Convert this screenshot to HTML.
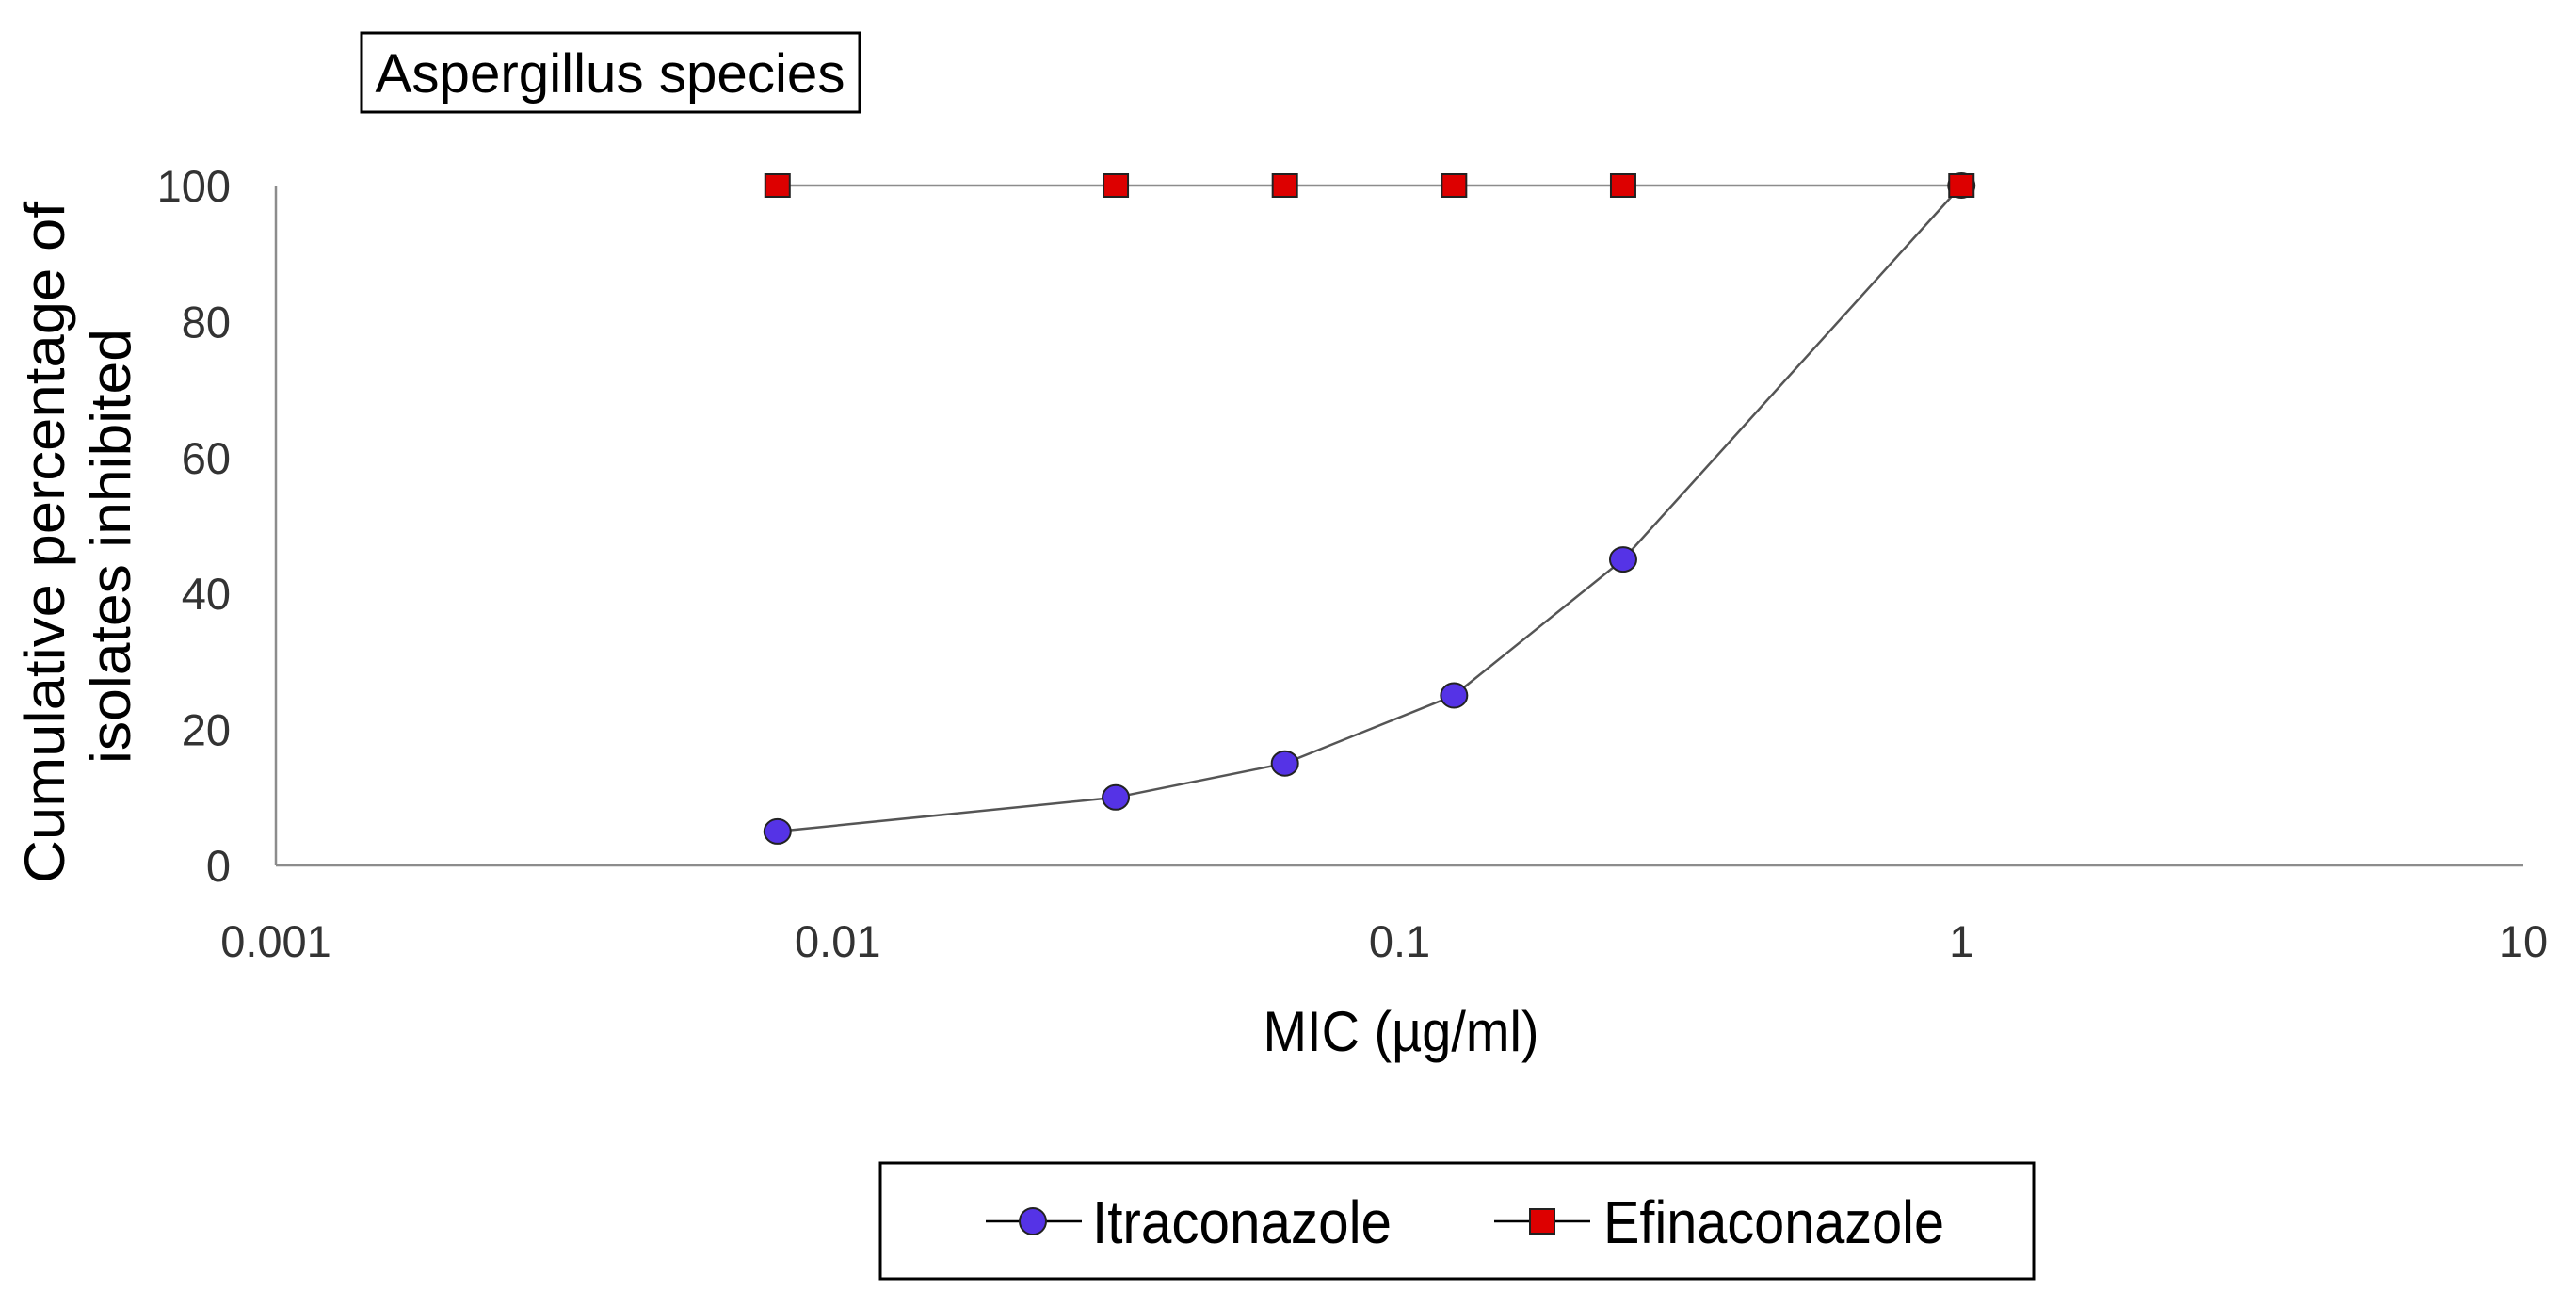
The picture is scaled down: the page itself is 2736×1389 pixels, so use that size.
<!DOCTYPE html>
<html><head><meta charset="utf-8"><style>
html,body{margin:0;padding:0;background:#fff;}
svg{display:block;font-family:"Liberation Sans",sans-serif;}
</style></head><body>
<svg id="chart" width="2736" height="1389" viewBox="0 0 2736 1389" xmlns="http://www.w3.org/2000/svg">
<rect x="384" y="35" width="529" height="84" fill="#fff" stroke="#000" stroke-width="3"/>
<text x="648" y="98" font-size="58" text-anchor="middle" textLength="499" lengthAdjust="spacingAndGlyphs" fill="#000">Aspergillus  species</text>
<line x1="293" y1="197" x2="293" y2="919" stroke="#8c8c8c" stroke-width="2.5"/>
<line x1="293" y1="919" x2="2680" y2="919" stroke="#8c8c8c" stroke-width="2.5"/>
<g id="yticks"></g><g id="xticks"></g>
<g id="series"></g>
<text transform="translate(68,576) rotate(-90)" font-size="60" text-anchor="middle" textLength="724" lengthAdjust="spacingAndGlyphs" fill="#000">Cumulative  percentage of</text>
<text transform="translate(138,580) rotate(-90)" font-size="60" text-anchor="middle" textLength="462" lengthAdjust="spacingAndGlyphs" fill="#000">isolates inhibited</text>
<text x="1488" y="1116" font-size="60" text-anchor="middle" textLength="293" lengthAdjust="spacingAndGlyphs" fill="#000">MIC (µg/ml)</text>
<g>
<rect x="935" y="1235" width="1225" height="123" fill="#fff" stroke="#000" stroke-width="3"/>
<g>
<line x1="1047" y1="1297" x2="1149" y2="1297" stroke="#000" stroke-width="2.5"/>
<ellipse cx="1097" cy="1297" rx="14" ry="14" fill="#5533e6" stroke="#222" stroke-width="2"/>
<text x="1160" y="1320" font-size="64" textLength="318" lengthAdjust="spacingAndGlyphs" fill="#000">Itraconazole</text>
</g>
<g>
<line x1="1587" y1="1297" x2="1689" y2="1297" stroke="#000" stroke-width="2.5"/>
<rect x="1625" y="1284" width="26" height="26" fill="#dd0000" stroke="#222" stroke-width="2"/>
<text x="1703" y="1320" font-size="64" textLength="362" lengthAdjust="spacingAndGlyphs" fill="#000">Efinaconazole</text>
</g>
</g>
</svg>
<script>
const micValues = [0.0078125, 0.03125, 0.0625, 0.125, 0.25, 1];
const itraconazole = [5, 10, 15, 25, 45, 100];
const efinaconazole = [100, 100, 100, 100, 100, 100];
const yTickValues = [0, 20, 40, 60, 80, 100];
const xTickValues = [0.001, 0.01, 0.1, 1, 10];
const xTickLabels = ["0.001", "0.01", "0.1", "1", "10"];

const NS = "http://www.w3.org/2000/svg";
const X0 = 293, X1 = 2680, Y0 = 919, Y1 = 197;
function xScale(v){ return X0 + (Math.log10(v) + 3) / 4 * (X1 - X0); }
function yScale(v){ return Y0 - v / 100 * (Y0 - Y1); }
function mk(tag, attrs){ const e = document.createElementNS(NS, tag); for (const k in attrs) e.setAttribute(k, attrs[k]); return e; }

const yt = document.getElementById('yticks');
yTickValues.forEach(v => {
  const t = mk('text', {x: 245, y: yScale(v) + 17, 'font-size': 47, 'text-anchor': 'end', fill: '#333'});
  
  
  t.textContent = String(v);
  yt.appendChild(t);
});
const xt = document.getElementById('xticks');
xTickValues.forEach((v, i) => {
  const t = mk('text', {x: xScale(v), y: 1016, 'font-size': 47, 'text-anchor': 'middle', fill: '#333'});
  
  
  t.textContent = xTickLabels[i];
  xt.appendChild(t);
});

const sg = document.getElementById('series');
function drawLine(vals, color, name){
  const pts = micValues.map((m, i) => xScale(m) + ',' + yScale(vals[i])).join(' ');
  const p = mk('polyline', {points: pts, fill: 'none', stroke: color, 'stroke-width': 2.5});
  
  
  sg.appendChild(p);
}
drawLine(efinaconazole, '#8c8c8c', 'efinaconazole-line');
drawLine(itraconazole, '#555', 'itraconazole-line');
micValues.forEach((m, i) => {
  const c = mk('ellipse', {cx: xScale(m), cy: yScale(itraconazole[i]), rx: 14, ry: 13, fill: '#5533e6', stroke: '#222', 'stroke-width': 2});
  
  
  sg.appendChild(c);
});
micValues.forEach((m, i) => {
  const r = mk('rect', {x: xScale(m) - 13, y: yScale(efinaconazole[i]) - 12, width: 26, height: 24, fill: '#dd0000', stroke: '#222', 'stroke-width': 2});
  
  
  sg.appendChild(r);
});
</script>
</body></html>
